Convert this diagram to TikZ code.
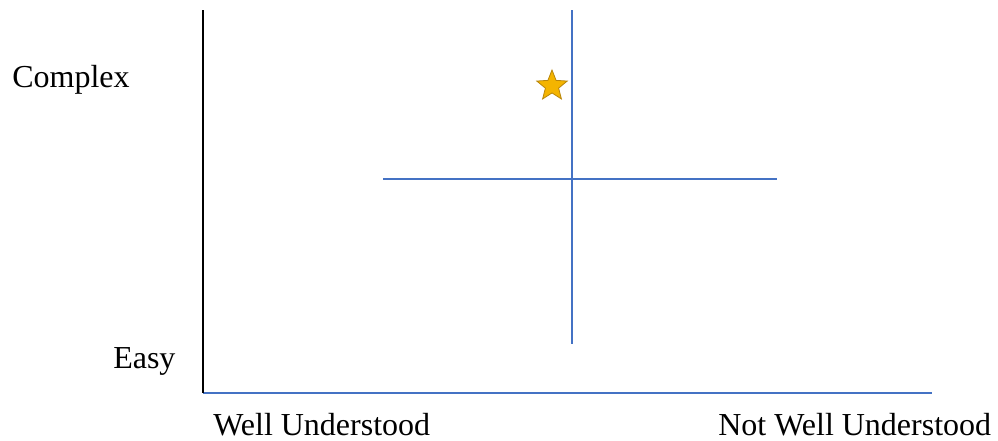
\documentclass[tikz,border=0pt]{standalone}
\usepackage{fontspec}
\setmainfont{Liberation Serif}
\usetikzlibrary{shapes.geometric}
\definecolor{axblue}{HTML}{4472C4}
\definecolor{stargold}{HTML}{F4B400}
\definecolor{stardark}{HTML}{B8860B}
\begin{document}
\begin{tikzpicture}[x=0.75pt,y=-0.75pt,
  lbl/.style={font=\fontsize{24}{27}\selectfont, inner sep=0pt, anchor=base west},
  blueline/.style={draw=axblue, line width=1.3pt},
  starmark/.style={star, star points=5, star point ratio=2.3, minimum size=24pt, inner sep=0pt, fill=stargold, draw=stardark, line width=0.6pt}]
\useasboundingbox (0,0) rectangle (998,440);
% axes
\coordinate (ytop) at (203,10);
\coordinate (origin) at (203,393);
\coordinate (xend) at (932,393);
\draw[blueline] (origin) -- (xend);
\draw[black, line width=1.5pt] (ytop) -- (origin);
% cross
\coordinate (vt) at (572,10);
\coordinate (vb) at (572,344);
\coordinate (hl) at (383,179);
\coordinate (hr) at (777,179);
\draw[blueline] (vt) -- (vb);
\draw[blueline] (hl) -- (hr);
% star
\node[starmark] (st) at (552,86) {};
% labels
\node[lbl] (complex) at (12,87) {Complex};
\node[lbl] (easy) at (113,368) {Easy};
\node[lbl, text depth=0pt] (well) at (213,435) {Well Understood};
\node[lbl, text depth=0pt] (notwell) at (718,435) {Not Well Understood};
\end{tikzpicture}
\end{document}
